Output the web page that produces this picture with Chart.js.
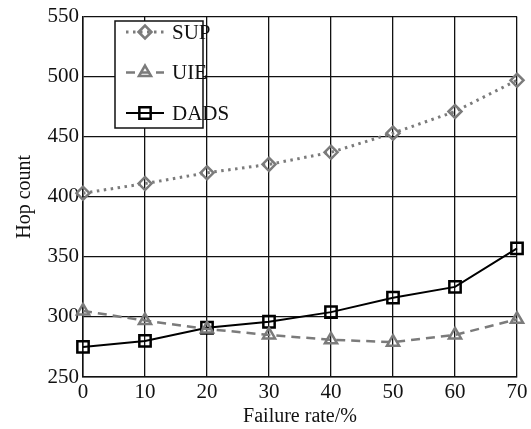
<!DOCTYPE html>
<html>
<head>
<meta charset="utf-8">
<script src="https://cdn.jsdelivr.net/npm/chart.js@4/dist/chart.umd.min.js"></script>
<style>
  html, body { margin: 0; padding: 0; background: #fff; }
  #wrap { width: 531px; height: 429px; position: relative; }
</style>
</head>
<body>
<div id="wrap"><canvas id="chart"></canvas></div>
<script>
// failure rate (%) on x
const rates = ['0', '10', '20', '30', '40', '50', '60', '70'];
const supHops = [403, 411, 420, 427, 437, 453, 471, 497];
const uieHops = [305, 297, 290, 285, 281, 279, 285, 298];
const dadsHops = [275, 280, 291, 296, 304, 316, 325, 357];
const yTicks = [250, 300, 350, 400, 450, 500, 550];

const serif = '"Liberation Serif", "Times New Roman", serif';
const gray = '#7b7b7b';

// legend box drawn inside the plot, top-left
const boxLegend = {
  id: 'boxLegend',
  afterDatasetsDraw(chart) {
    const ctx = chart.ctx;
    const x0 = 115, y0 = 21, w = 88, h = 107;
    ctx.save();
    ctx.fillStyle = '#fff';
    ctx.fillRect(x0, y0, w, h);
    ctx.lineWidth = 1.5;
    ctx.strokeStyle = '#111';
    ctx.strokeRect(x0, y0, w, h);
    chart.data.datasets.forEach(function(ds, i) {
      const y = 32 + i * 40.5;
      ctx.beginPath();
      ctx.setLineDash(ds.borderDash || []);
      ctx.lineWidth = ds.borderWidth;
      ctx.strokeStyle = ds.borderColor;
      ctx.moveTo(126, y);
      ctx.lineTo(164, y);
      ctx.stroke();
      ctx.setLineDash([]);
      ctx.fillStyle = 'rgba(0,0,0,0)';
      ctx.lineWidth = ds.pointBorderWidth;
      ctx.strokeStyle = ds.pointBorderColor;
      Chart.helpers.drawPoint(ctx, {
        pointStyle: ds.pointStyle,
        radius: ds.pointRadius,
        rotation: 0,
        borderWidth: ds.pointBorderWidth
      }, 145, y);
      ctx.fillStyle = '#111';
      ctx.font = '21px ' + serif;
      ctx.textBaseline = 'middle';
      ctx.fillText(ds.label, 172, y + 1);
    });
    ctx.restore();
  }
};

new Chart(document.getElementById('chart'), {
  type: 'line',
  data: {
    labels: rates,
    datasets: [
      {
        label: 'SUP', data: supHops,
        borderColor: gray, borderWidth: 3, borderDash: [2.5, 4.5],
        pointStyle: 'rectRot', pointRadius: 6.5, pointBorderWidth: 2.5,
        pointBorderColor: gray, pointBackgroundColor: 'rgba(0,0,0,0)'
      },
      {
        label: 'UIE', data: uieHops,
        borderColor: gray, borderWidth: 2.5, borderDash: [9, 6],
        pointStyle: 'triangle', pointRadius: 7, pointBorderWidth: 2.5,
        pointBorderColor: gray, pointBackgroundColor: 'rgba(0,0,0,0)'
      },
      {
        label: 'DADS', data: dadsHops,
        borderColor: '#000', borderWidth: 2,
        pointStyle: 'rect', pointRadius: 8, pointBorderWidth: 2.5,
        pointBorderColor: '#000', pointBackgroundColor: 'rgba(0,0,0,0)'
      }
    ]
  },
  options: {
    responsive: true,
    maintainAspectRatio: false,
    animation: false,
    layout: { padding: { left: 0, top: 14, right: 14, bottom: 0 } },
    plugins: { legend: { display: false }, tooltip: { enabled: false } },
    elements: { line: { tension: 0 } },
    scales: {
      x: {
        offset: false,
        grid: { color: '#111', lineWidth: 1.3, drawTicks: false },
        border: { color: '#111', width: 1.5 },
        ticks: { color: '#111', padding: 3, maxRotation: 0, font: { family: serif, size: 21 } },
        title: { display: true, text: 'Failure rate/%', color: '#111', padding: { top: 0, bottom: 0 }, font: { family: serif, size: 20 } },
        afterFit(scale) { scale.height = 52; }
      },
      y: {
        min: yTicks[0], max: yTicks[yTicks.length - 1],
        afterBuildTicks(scale) { scale.ticks = yTicks.map(v => ({ value: v })); },
        grid: { color: '#111', lineWidth: 1.3, drawTicks: false },
        border: { color: '#111', width: 1.5 },
        ticks: { color: '#111', padding: 4, font: { family: serif, size: 21 } },
        title: { display: true, text: 'Hop count', color: '#111', padding: { top: 13, bottom: 0 }, font: { family: serif, size: 20 } },
        afterFit(scale) { scale.width = 83; }
      }
    }
  },
  plugins: [boxLegend]
});
</script>
</body>
</html>
